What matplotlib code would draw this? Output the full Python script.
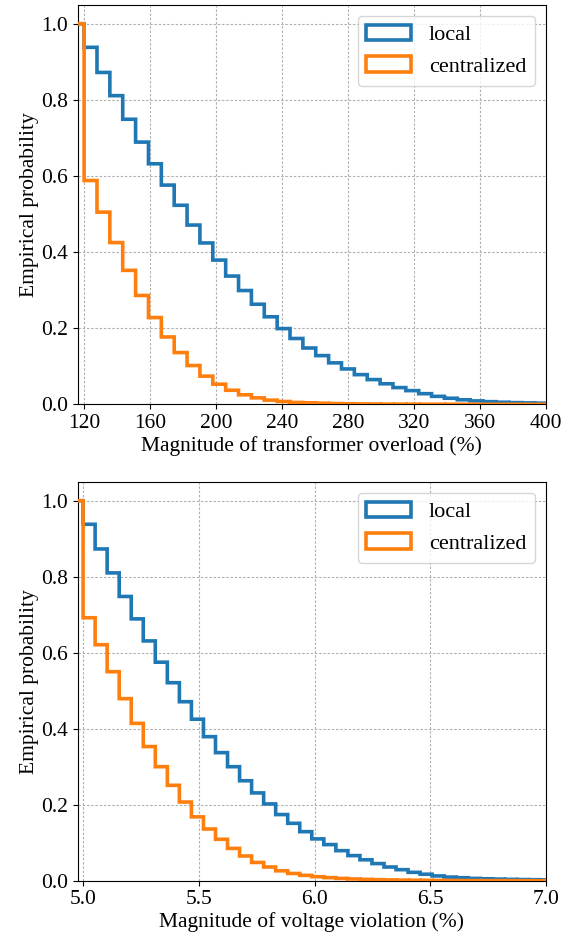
import matplotlib
matplotlib.use("Agg")
import matplotlib.pyplot as plt

plt.rcParams['font.family'] = ['Liberation Serif', 'DejaVu Serif']
plt.rcParams['font.size'] = 15.5
plt.rcParams['path.simplify'] = False

# ---- top panel: transformer overload ----
overload_edges = [112.2, 120.0, 127.8, 135.6, 143.4, 151.2, 159.0, 166.8, 174.6, 182.4,
                  190.2, 198.0, 205.8, 213.6, 221.4, 229.2, 237.0, 244.8, 252.6, 260.4,
                  268.2, 276.0, 283.8, 291.6, 299.4, 307.2, 315.0, 322.8, 330.6, 338.4,
                  346.2, 354.0, 361.8, 369.6, 377.4, 385.2, 393.0, 400.8]
overload_local = [1.0, 0.938, 0.872, 0.811, 0.749, 0.689, 0.632, 0.576, 0.523, 0.471,
                  0.424, 0.379, 0.337, 0.299, 0.263, 0.230, 0.199, 0.173, 0.148, 0.128,
                  0.109, 0.093, 0.078, 0.065, 0.054, 0.044, 0.036, 0.028, 0.021, 0.016,
                  0.012, 0.009, 0.007, 0.0055, 0.0045, 0.0038, 0.003]
overload_central = [1.0, 0.588, 0.505, 0.425, 0.352, 0.286, 0.228, 0.177, 0.136, 0.102,
                    0.074, 0.053, 0.037, 0.025, 0.017, 0.011, 0.0075, 0.005, 0.004, 0.003,
                    0.002, 0.0015, 0.001, 0.0008, 0.0006, 0.0005, 0.0004, 0.0003, 0.0003, 0.0002,
                    0.0002, 0.0001, 0.0001, 0.0001, 0.0001, 0.0001, 0.0001]
overload_xticks = [120, 160, 200, 240, 280, 320, 360, 400]

# ---- bottom panel: voltage violation ----
voltage_edges = [4.948, 5.000, 5.052, 5.104, 5.156, 5.208, 5.260, 5.312, 5.364, 5.416,
                 5.468, 5.520, 5.572, 5.624, 5.676, 5.728, 5.780, 5.832, 5.884, 5.936,
                 5.988, 6.040, 6.092, 6.144, 6.196, 6.248, 6.300, 6.352, 6.404, 6.456,
                 6.508, 6.560, 6.612, 6.664, 6.716, 6.768, 6.820, 6.872, 6.924, 6.976, 7.028]
voltage_local = [1.0, 0.938, 0.873, 0.810, 0.748, 0.689, 0.631, 0.575, 0.521, 0.471,
                 0.425, 0.379, 0.337, 0.300, 0.263, 0.231, 0.202, 0.174, 0.151, 0.129,
                 0.110, 0.095, 0.079, 0.066, 0.055, 0.045, 0.036, 0.029, 0.022, 0.017,
                 0.0125, 0.0095, 0.0078, 0.006, 0.005, 0.0042, 0.0035, 0.003, 0.0026, 0.0021]
voltage_central = [1.0, 0.692, 0.621, 0.550, 0.479, 0.414, 0.353, 0.300, 0.251, 0.207,
                   0.168, 0.136, 0.109, 0.085, 0.065, 0.048, 0.036, 0.026, 0.019, 0.014,
                   0.0105, 0.008, 0.006, 0.0045, 0.0035, 0.0027, 0.002, 0.0015, 0.0012, 0.0009,
                   0.0007, 0.0005, 0.0004, 0.0003, 0.0002, 0.0002, 0.0001, 0.0001, 0.0001, 0.0001]
voltage_xticks = [5.0, 5.5, 6.0, 6.5, 7.0]

series_labels = ['local', 'centralized']
yticks = [0.0, 0.2, 0.4, 0.6, 0.8, 1.0]

fig = plt.figure(figsize=(5.70, 9.39), dpi=100)
ax1 = fig.add_axes([0.136, 0.5694, 0.822, 0.4256])
ax2 = fig.add_axes([0.136, 0.0621, 0.822, 0.4249])


def panel(ax, edges, local, central, xticks, xlim, xlabel):
    for vals, col, lab, z in ((local, '#1f77b4', series_labels[0], 3),
                              (central, '#ff7f0e', series_labels[1], 3.1)):
        _, _, patches = ax.hist(edges[:-1], bins=edges, weights=vals, histtype='step',
                                color=col, lw=2.6, label=lab, zorder=z)
        for p in patches:
            p.set_snap(False)
    ax.set_xlim(*xlim)
    ax.set_ylim(0, 1.05)
    ax.set_xticks(xticks)
    ax.set_yticks(yticks)
    ax.grid(True, linestyle=(0, (2.2, 1.6)), linewidth=0.8, color='#b0b0b0')
    ax.set_axisbelow(True)
    ax.set_xlabel(xlabel, labelpad=2)
    ax.set_ylabel('Empirical probability', labelpad=1)
    ax.legend(loc='upper right', fontsize=16)


panel(ax1, overload_edges, overload_local, overload_central, overload_xticks,
      (116, 400), 'Magnitude of transformer overload (%)')
panel(ax2, voltage_edges, voltage_local, voltage_central, voltage_xticks,
      (4.976, 7.0), 'Magnitude of voltage violation (%)')

fig.savefig('out.png', dpi=100)
